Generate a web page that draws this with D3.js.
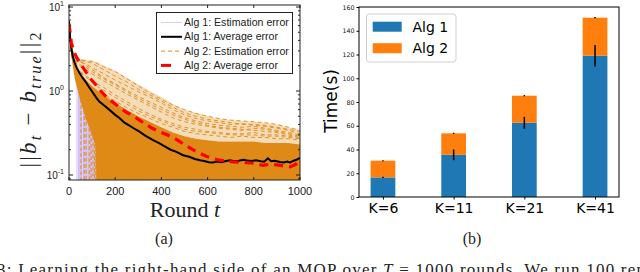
<!DOCTYPE html>
<html><head><meta charset="utf-8">
<script src="https://cdn.jsdelivr.net/npm/d3@7"></script>
<style>body{margin:0;background:#fff}svg{display:block}</style>
</head><body><svg id="c" width="640" height="272"></svg>
<script>
// ---------- (a) data ----------
const xTicksA = [0, 200, 400, 600, 800, 1000];
const yTicksA = [0.1, 1, 10];
const yExpA = ["-1", "0", "1"];
// Alg 1 average error (black)
const avg1T = [0,5,10,16,25,35,45,60,75,90,103,117,131,150,174,200,217,240,260,280,303,330,364,390,420,440,463,494,520,545,567,585,605,623,640,660,680,697,715,735,755,771,790,810,830,845,861,875,890,913,930,945,957,970,985,1000];
const avg1V = [6.8,4.2,3.3,2.6,2.15,1.85,1.65,1.42,1.25,1.08,0.96,0.84,0.75,0.68,0.6,0.52,0.48,0.42,0.39,0.36,0.33,0.295,0.26,0.24,0.215,0.2,0.19,0.172,0.165,0.155,0.15,0.147,0.142,0.141,0.145,0.142,0.147,0.15,0.146,0.148,0.152,0.149,0.147,0.15,0.146,0.144,0.158,0.146,0.148,0.143,0.141,0.145,0.14,0.147,0.152,0.16];
// Alg 2 average error (red dashed)
const avg2T = [0,10,20,30,50,74,95,117,140,160,180,203,225,247,270,290,310,333,360,390,420,450,475,494,523,550,575,597,620,650,680,710,740,770,800,820,840,870,900,930,957,980,1000];
const avg2V = [6.3,3.8,3.0,2.6,2.1,1.68,1.38,1.18,0.98,0.86,0.77,0.69,0.62,0.56,0.52,0.48,0.44,0.4,0.36,0.33,0.305,0.28,0.255,0.235,0.21,0.19,0.177,0.166,0.158,0.15,0.147,0.143,0.142,0.14,0.138,0.133,0.13,0.135,0.132,0.128,0.125,0.133,0.148];
// spread of the individual runs
const gridT = [0,10,25,50,75,100,125,150,200,250,300,350,400,450,500,550,600,650,700,750,800,850,900,950,1000];
const envUpper   = [6.5,3.5,2.5,2.4,2.3,2.3,2.2,2.0,1.75,1.45,1.2,1.0,0.85,0.7,0.6,0.55,0.5,0.47,0.45,0.44,0.43,0.42,0.4,0.37,0.34];
const denseUpper = [6.0,3.0,2.0,1.6,1.35,1.15,1.0,0.9,0.72,0.6,0.5,0.43,0.37,0.32,0.29,0.27,0.26,0.25,0.25,0.25,0.25,0.24,0.24,0.24,0.23];
const denseLowT = [0,10,25,50,75,100,115,120,1000];
const denseLowV = [6.0,2.6,1.4,0.75,0.45,0.3,0.22,0.05,0.05];
const orangeTraces = [
  [6.3,3.5,2.5,2.35,2.3,2.25,2.1,1.95,1.7,1.4,1.15,0.95,0.8,0.68,0.6,0.54,0.5,0.47,0.45,0.44,0.43,0.42,0.4,0.37,0.34],
  [6.0,3.2,2.3,2.2,2.1,1.9,1.75,1.6,1.35,1.15,0.98,0.85,0.72,0.6,0.52,0.47,0.44,0.42,0.4,0.41,0.39,0.38,0.36,0.34,0.31],
  [5.8,3.0,2.2,1.95,1.8,1.6,1.45,1.32,1.1,0.92,0.78,0.66,0.56,0.48,0.43,0.4,0.38,0.36,0.35,0.34,0.36,0.35,0.33,0.31,0.29],
  [6.1,2.9,2.0,1.7,1.5,1.35,1.2,1.1,0.9,0.75,0.62,0.53,0.46,0.41,0.37,0.35,0.33,0.32,0.31,0.31,0.32,0.3,0.3,0.29,0.27],
  [6.2,3.3,2.35,2.25,2.0,1.8,1.62,1.45,1.22,1.02,0.86,0.74,0.64,0.55,0.48,0.44,0.41,0.39,0.38,0.37,0.38,0.36,0.34,0.32,0.3],
  [5.9,2.7,1.9,1.55,1.3,1.12,1.0,0.92,0.76,0.63,0.54,0.47,0.41,0.37,0.33,0.31,0.3,0.29,0.28,0.29,0.28,0.28,0.27,0.27,0.26],
  [6.4,3.4,2.45,2.3,2.25,2.15,1.95,1.8,1.5,1.28,1.05,0.9,0.76,0.64,0.55,0.5,0.46,0.44,0.42,0.4,0.4,0.39,0.37,0.35,0.33],
  [6.0,3.1,2.25,2.05,1.9,1.7,1.55,1.4,1.18,0.98,0.82,0.7,0.6,0.52,0.46,0.42,0.39,0.37,0.36,0.35,0.34,0.33,0.32,0.3,0.28],
  [5.9,2.8,1.95,1.65,1.45,1.28,1.12,1.02,0.84,0.7,0.58,0.5,0.44,0.39,0.35,0.33,0.32,0.31,0.3,0.3,0.3,0.29,0.29,0.28,0.27]
];
const purpleBandT = [30,45,60,75,90,105,118,130,140];
const purpleBandV = [1.3,1.0,0.8,0.62,0.5,0.4,0.33,0.3,0.3];
const purpleDrops = [[42,1.1],[48,0.95],[55,0.9],[63,0.8],[70,0.7],[78,0.65],[85,0.6],[93,0.55],[100,0.5],[108,0.45],[115,0.42],[122,0.4],[130,0.38],[138,0.35]];
const orangeDrops = [[52,0.8],[66,0.7],[74,0.6],[88,0.5],[96,0.45],[104,0.4],[110,0.38],[116,0.35]];
const legendA = ["Alg 1: Estimation error","Alg 1: Average error","Alg 2: Estimation error","Alg 2: Average error"];

// ---------- (b) data ----------
const categories = ["K=6","K=11","K=21","K=41"];
const alg1 = [16.5, 35.5, 62.5, 119];
const alg2 = [14.1, 18.1, 22.8, 32];
const alg1Err = [0.5, 4.5, 5, 9];
const alg2Err = [0.4, 0.5, 0.5, 0.5];
const yTicksB = [0,20,40,60,80,100,120,140,160];

const svg = d3.select("#c");
const ORANGE = "#df8a17", PURPLE = "#cbb8f7";

// ================= Panel (a) =================
const xA = d3.scaleLinear().domain([0,1000]).range([69,300]);
const yA = d3.scaleLog().domain([0.1,10]).range([175,7]);
const boxTop = 5, boxBot = 180;
const gA = svg.append("g");
gA.append("clipPath").attr("id","clipA").append("rect")
  .attr("x",69).attr("y",boxTop).attr("width",231).attr("height",boxBot-boxTop);
const plot = gA.append("g").attr("clip-path","url(#clipA)");
const BOTTOM = 0.05;

// purple band + streaks
plot.append("path").datum(purpleBandT.map((t,i)=>[t,purpleBandV[i]]))
  .attr("d", d3.area().x(d=>xA(d[0])).y0(yA(BOTTOM)).y1(d=>yA(d[1])))
  .attr("fill",PURPLE).attr("opacity",0.45);
plot.selectAll(".pd").data(purpleDrops).join("line")
  .attr("x1",d=>xA(d[0])).attr("x2",d=>xA(d[0]))
  .attr("y1",d=>yA(d[1])).attr("y2",yA(BOTTOM))
  .attr("stroke",PURPLE).attr("stroke-width",1.2);
// light orange envelope
plot.append("path").datum(gridT.map((t,i)=>[t,envUpper[i],denseUpper[i]]))
  .attr("d", d3.area().x(d=>xA(d[0])).y0(d=>yA(d[2])).y1(d=>yA(d[1])))
  .attr("fill",ORANGE).attr("opacity",0.3);
// orange drops
plot.selectAll(".od").data(orangeDrops).join("line")
  .attr("x1",d=>xA(d[0])).attr("x2",d=>xA(d[0]))
  .attr("y1",d=>yA(d[1])).attr("y2",yA(BOTTOM))
  .attr("stroke",ORANGE).attr("stroke-width",1).attr("stroke-dasharray","4,2");
// dense orange
const lowInterp = t => { for(let i=1;i<denseLowT.length;i++){ if(t<=denseLowT[i]){const f=(t-denseLowT[i-1])/(denseLowT[i]-denseLowT[i-1]); return Math.exp(Math.log(denseLowV[i-1])*(1-f)+Math.log(denseLowV[i])*f);} } return BOTTOM; };
const denseTs = Array.from(new Set(gridT.concat(denseLowT))).sort((a,b)=>a-b);
const upInterp = t => { for(let i=1;i<gridT.length;i++){ if(t<=gridT[i]){const f=(t-gridT[i-1])/(gridT[i]-gridT[i-1]); return Math.exp(Math.log(denseUpper[i-1])*(1-f)+Math.log(denseUpper[i])*f);} } return denseUpper[denseUpper.length-1]; };
plot.append("path").datum(denseTs)
  .attr("d", d3.area().x(t=>xA(t)).y0(t=>yA(lowInterp(t))).y1(t=>yA(upInterp(t))))
  .attr("fill",ORANGE);
// individual dashed traces
const lineA = d3.line().x((d,i)=>xA(gridT[i])).y(d=>yA(d));
plot.selectAll(".ot").data(orangeTraces).join("path")
  .attr("d",lineA).attr("fill","none").attr("stroke",ORANGE)
  .attr("stroke-width",0.9).attr("stroke-dasharray","4,3");
// averages
plot.append("path").datum(avg1T.map((t,i)=>[t,avg1V[i]]))
  .attr("d", d3.line().x(d=>xA(d[0])).y(d=>yA(d[1])))
  .attr("fill","none").attr("stroke","#000").attr("stroke-width",2);
plot.append("path").datum(avg2T.map((t,i)=>[t,avg2V[i]]))
  .attr("d", d3.line().x(d=>xA(d[0])).y(d=>yA(d[1])))
  .attr("fill","none").attr("stroke","#ff0000").attr("stroke-width",3.2).attr("stroke-dasharray","9,6");

// box
gA.append("rect").attr("x",69).attr("y",boxTop).attr("width",231).attr("height",boxBot-boxTop)
  .attr("fill","none").attr("stroke","#222").attr("stroke-width",1);
// x ticks (inward, top and bottom)
xTicksA.forEach(t=>{
  gA.append("line").attr("x1",xA(t)).attr("x2",xA(t)).attr("y1",boxBot).attr("y2",boxBot-3).attr("stroke","#222");
  gA.append("line").attr("x1",xA(t)).attr("x2",xA(t)).attr("y1",boxTop).attr("y2",boxTop+3).attr("stroke","#222");
  gA.append("text").attr("x",xA(t)).attr("y",195).attr("text-anchor","middle")
    .attr("font-family","Liberation Sans, Arial, sans-serif").attr("font-size",11).attr("fill","#222").text(t);
});
// y ticks
const minor = [];
[0.01,0.1,1].forEach(b=>{for(let k=2;k<=9;k++){const v=b*k; if(v>=0.087&&v<=10.3&&v!==1&&v!==0.1&&v!==10) minor.push(v);}});
minor.forEach(v=>{
  gA.append("line").attr("x1",69).attr("x2",71).attr("y1",yA(v)).attr("y2",yA(v)).attr("stroke","#222");
  gA.append("line").attr("x1",300).attr("x2",298).attr("y1",yA(v)).attr("y2",yA(v)).attr("stroke","#222");
});
yTicksA.forEach((v,i)=>{
  gA.append("line").attr("x1",69).attr("x2",73).attr("y1",yA(v)).attr("y2",yA(v)).attr("stroke","#222");
  gA.append("line").attr("x1",300).attr("x2",296).attr("y1",yA(v)).attr("y2",yA(v)).attr("stroke","#222");
  const t = gA.append("text").attr("x",64).attr("y",yA(v)+4).attr("text-anchor","end")
    .attr("font-family","Liberation Sans, Arial, sans-serif").attr("font-size",10).attr("fill","#222");
  t.append("tspan").text("10");
  t.append("tspan").attr("dy",-5).attr("font-size",7).text(yExpA[i]);
});
// x label
const xl = gA.append("text").attr("x",185).attr("y",217).attr("text-anchor","middle")
  .attr("font-family","Liberation Serif, Times New Roman, serif").attr("font-size",22).attr("fill","#222");
xl.append("tspan").text("Round ");
xl.append("tspan").attr("font-style","italic").text("t");
// y label
const yl = gA.append("text").attr("transform","translate(36,100) rotate(-90)").attr("text-anchor","middle")
  .attr("font-family","Liberation Serif, Times New Roman, serif").attr("font-size",23).attr("fill","#222")
  .attr("textLength",135).attr("lengthAdjust","spacing");
yl.append("tspan").text("||");
yl.append("tspan").attr("font-style","italic").text("b");
yl.append("tspan").attr("font-style","italic").attr("font-size",16).attr("dy",5).text("t");
yl.append("tspan").attr("dy",-5).text(" − ");
yl.append("tspan").attr("font-style","italic").text("b");
yl.append("tspan").attr("font-style","italic").attr("font-size",16).attr("dy",5).text("true");
yl.append("tspan").attr("dy",-5).text("||");
yl.append("tspan").attr("font-size",16).attr("dy",5).text("2");
// legend
const lg = gA.append("g");
lg.append("rect").attr("x",156.5).attr("y",12.5).attr("width",136).attr("height",61)
  .attr("fill","#fff").attr("stroke","#222").attr("stroke-width",1);
const lgStyles = [
  {c:"#d9cbff",w:1,d:null},{c:"#000",w:2,d:null},{c:ORANGE,w:1,d:"4,3"},{c:"#ff0000",w:3,d:"10,12"}];
legendA.forEach((s,i)=>{
  const y = 22.5 + i*14.3;
  lg.append("line").attr("x1",161).attr("x2",182).attr("y1",y).attr("y2",y)
    .attr("stroke",lgStyles[i].c).attr("stroke-width",lgStyles[i].w)
    .attr("stroke-dasharray",lgStyles[i].d);
  lg.append("text").attr("x",184).attr("y",y+3.6)
    .attr("font-family","Liberation Sans, Arial, sans-serif").attr("font-size",10.6).attr("fill","#222").text(s);
});
gA.append("text").attr("x",164).attr("y",244).attr("text-anchor","middle")
  .attr("font-family","Liberation Serif, Times New Roman, serif").attr("font-size",16).attr("fill","#222").text("(a)");

// ================= Panel (b) =================
const xB = d3.scalePoint().domain(categories).range([359,619]).padding(0.339);
const yB = d3.scaleLinear().domain([0,160]).range([197,7]);
const bw = xB.step()*0.35;
const gB = svg.append("g");
gB.selectAll(".b1").data(categories).join("rect")
  .attr("x",d=>xB(d)-bw/2).attr("width",bw)
  .attr("y",(d,i)=>yB(alg1[i])).attr("height",(d,i)=>yB(0)-yB(alg1[i]))
  .attr("fill","#1f77b4");
gB.selectAll(".b2").data(categories).join("rect")
  .attr("x",d=>xB(d)-bw/2).attr("width",bw)
  .attr("y",(d,i)=>yB(alg1[i]+alg2[i])).attr("height",(d,i)=>yB(alg1[i])-yB(alg1[i]+alg2[i]))
  .attr("fill","#ff7f0e");
gB.selectAll(".e1").data(categories).join("line")
  .attr("x1",d=>xB(d)).attr("x2",d=>xB(d))
  .attr("y1",(d,i)=>yB(alg1[i]-alg1Err[i])).attr("y2",(d,i)=>yB(alg1[i]+alg1Err[i]))
  .attr("stroke","#000").attr("stroke-width",1.5);
gB.selectAll(".e2").data(categories).join("line")
  .attr("x1",d=>xB(d)).attr("x2",d=>xB(d))
  .attr("y1",(d,i)=>yB(alg1[i]+alg2[i]-alg2Err[i])).attr("y2",(d,i)=>yB(alg1[i]+alg2[i]+alg2Err[i]))
  .attr("stroke","#000").attr("stroke-width",1.5);
// axes
gB.append("g").attr("transform","translate(359,0)")
  .call(d3.axisLeft(yB).tickValues(yTicksB).tickSize(2.5).tickPadding(2))
  .call(g=>g.select(".domain").remove())
  .call(g=>g.selectAll("text").attr("font-family","DejaVu Sans, sans-serif").attr("font-size",6.3).attr("fill","#111"));
gB.append("g").attr("transform","translate(0,197)")
  .call(d3.axisBottom(xB).tickSize(2.5).tickPadding(4))
  .call(g=>g.select(".domain").remove())
  .call(g=>g.selectAll("text").attr("font-family","DejaVu Sans, sans-serif").attr("font-size",14).attr("fill","#000"));
gB.append("rect").attr("x",359).attr("y",7).attr("width",260).attr("height",190)
  .attr("fill","none").attr("stroke","#000").attr("stroke-width",1);
gB.append("text").attr("transform","translate(337,101) rotate(-90)").attr("text-anchor","middle")
  .attr("font-family","DejaVu Sans, sans-serif").attr("font-size",17).attr("fill","#000").text("Time(s)");
// legend
const lb = gB.append("g");
lb.append("rect").attr("x",366.5).attr("y",14).attr("width",89.5).attr("height",48).attr("rx",3)
  .attr("fill","#fff").attr("fill-opacity",0.8).attr("stroke","#d0d0d0").attr("stroke-width",1);
[["Alg 1","#1f77b4"],["Alg 2","#ff7f0e"]].forEach((e,i)=>{
  lb.append("rect").attr("x",372.7).attr("y",21.7+i*21.5).attr("width",29).attr("height",10).attr("fill",e[1]);
  lb.append("text").attr("x",412.5).attr("y",32+i*21.3).attr("font-family","DejaVu Sans, sans-serif")
    .attr("font-size",14).attr("fill","#000").text(e[0]);
});
gB.append("text").attr("x",472).attr("y",244).attr("text-anchor","middle")
  .attr("font-family","Liberation Serif, Times New Roman, serif").attr("font-size",16).attr("fill","#222").text("(b)");

// caption (cut off at the bottom, as in the reference)
const cap = svg.append("text").attr("x",-3).attr("y",274.5)
  .attr("font-family","Liberation Serif, Times New Roman, serif").attr("font-size",17).attr("fill","#222")
  .attr("textLength",648).attr("lengthAdjust","spacing");
cap.append("tspan").text("3: Learning the right-hand side of an MOP over ");
cap.append("tspan").attr("font-style","italic").text("T");
cap.append("tspan").text(" = 1000 rounds. We run 100 rep");
</script></body></html>
